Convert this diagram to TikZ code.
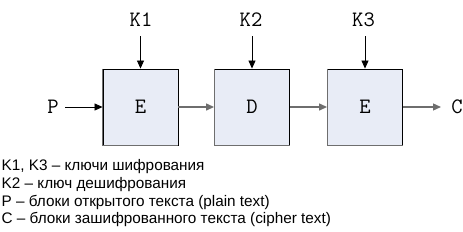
\documentclass[tikz,border=0pt]{standalone}
\usepackage{fontspec}
\setmainfont{Liberation Sans}
\usetikzlibrary{arrows.meta}
\definecolor{boxfill}{HTML}{E8ECF6}
\definecolor{edgegray}{HTML}{6E6E6E}
\tikzset{
  blk/.style={draw=black, fill=boxfill, line width=0.9pt, minimum width=75pt, minimum height=76pt, inner sep=0pt, font=\ttfamily\fontsize{22}{22}\selectfont},
  lbl/.style={font=\ttfamily\fontsize{22}{22}\selectfont, inner sep=0pt},
  keyarr/.style={-{Triangle[length=8pt,width=7pt]}, line width=0.8pt, black},
  flowarr/.style={-{Triangle[length=8pt,width=7pt]}, line width=1.3pt, edgegray},
  legend/.style={font=\fontsize{15.3}{17.7}\selectfont, anchor=base west, inner sep=0pt}
}
\begin{document}
\begin{tikzpicture}[x=1pt,y=-1pt]
\useasboundingbox (0,0) rectangle (463,231);
\node[blk] (e1) at (140.5,107) {E};
\node[blk] (d2) at (252,107) {D};
\node[blk] (e3) at (365,107) {E};
\foreach \b in {e1,d2,e3}{
  \draw[edgegray, line width=1.1pt] (\b.north west) -- (\b.south west) -- (\b.south east);
}
\node[lbl] (k1) at (141,20) {K1};
\node[lbl] (k2) at (251,20) {K2};
\node[lbl] (k3) at (363.5,20) {K3};
\coordinate (k1s) at (140.5,36);
\coordinate (k2s) at (252,36);
\coordinate (k3s) at (365,36);
\draw[keyarr] (k1s) -- (e1.north);
\draw[keyarr] (k2s) -- (d2.north);
\draw[keyarr] (k3s) -- (e3.north);
\node[lbl] (p) at (53,107) {P};
\node[lbl] (c) at (457,107) {C};
\coordinate (ps) at (65,107);
\draw[keyarr] (ps) -- (e1.west);
\draw[flowarr] (e1.east) -- (d2.west);
\draw[flowarr] (d2.east) -- (e3.west);
\coordinate (ce) at (441,107);
\draw[flowarr] (e3.east) -- (ce);
\node[legend] (l1) at (1.5,170.7) {K1, K3 – ключи шифрования};
\node[legend] (l2) at (1.5,188.4) {K2 – ключ дешифрования};
\node[legend] (l3) at (1.5,206.1) {P – блоки открытого текста (plain text)};
\node[legend] (l4) at (1.5,223.8) {C – блоки зашифрованного текста (cipher text)};
\end{tikzpicture}
\end{document}
